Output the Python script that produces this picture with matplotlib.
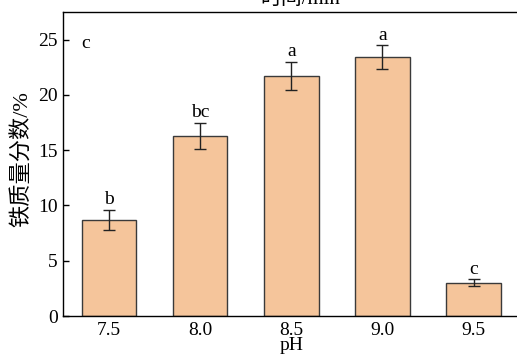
import matplotlib
matplotlib.use('Agg')
import matplotlib.pyplot as plt
import numpy as np

plt.rcParams['font.family'] = ['Liberation Serif', 'Noto Sans CJK SC']
plt.rcParams['mathtext.fontset'] = 'stix'

# iron mass fraction vs pH
ph_labels = ['7.5', '8.0', '8.5', '9.0', '9.5']
fe_mean = [8.7, 16.3, 21.7, 23.4, 3.0]
fe_err = [0.9, 1.2, 1.3, 1.1, 0.33]
groups = ['b', 'bc', 'a', 'a', 'c']

BAR = '#F5C59B'
EDGE = '#3a3a3a'

fig = plt.figure(figsize=(5.17, 3.6), dpi=100)
ax = fig.add_axes([0.1224, 0.1222, 0.882, 0.8445])

x = np.arange(len(ph_labels))
ax.bar(x, fe_mean, width=0.6, color=BAR, edgecolor=EDGE, linewidth=1.0, zorder=2)
ax.errorbar(x, fe_mean, yerr=fe_err, fmt='none', ecolor='#222222',
            elinewidth=1.0, capsize=4, capthick=1.0, zorder=3)
for xi, m, e, g in zip(x, fe_mean, fe_err, groups):
    ax.annotate(g, (xi, m + e), xytext=(0, 1), textcoords='offset points',
                ha='center', va='bottom', fontsize=14)

ax.set_xlim(-0.5, 4.5)
ax.set_ylim(0, 27.5)
ax.set_xticks(x)
ax.set_xticklabels(ph_labels)
ax.set_yticks([0, 5, 10, 15, 20, 25])
ax.tick_params(direction='in', length=4, width=1.0, labelsize=14, pad=4)
ax.set_xlabel('pH', fontsize=14, labelpad=-1)
ax.set_ylabel('铁质量分数/%', fontsize=16)
ax.yaxis.set_label_coords(-0.066, 0.516)
for s in ax.spines.values():
    s.set_linewidth(1.0)

ax.text(0.04, 0.88, 'c', transform=ax.transAxes, fontsize=14)
fig.text(0.58, 0.989, '时间/min', ha='center', va='baseline', fontsize=15)

fig.savefig('out.png', dpi=100)
